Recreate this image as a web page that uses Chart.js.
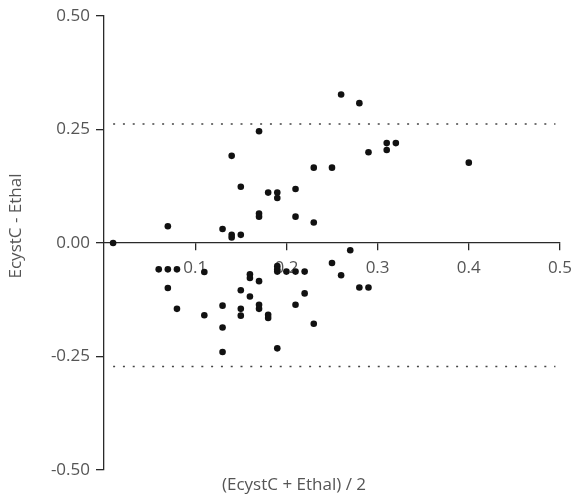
<!DOCTYPE html>
<html>
<head>
<meta charset="utf-8">
<script src="https://cdn.jsdelivr.net/npm/chart.js@4"></script>
<style>
  html, body { margin: 0; padding: 0; background: #fff; }
</style>
</head>
<body>
<canvas id="chart" width="572" height="500"></canvas>
<script>
// (mean, difference) pairs
const meanVals = [
    0.01, 0.07, 0.13, 0.14, 0.14, 0.14, 0.15, 0.15, 0.17, 0.17,
    0.17, 0.18, 0.19, 0.19, 0.21, 0.21, 0.23, 0.23, 0.25, 0.26,
    0.28, 0.29, 0.31, 0.31, 0.32, 0.40, 0.27, 0.25, 0.26, 0.28,
    0.29, 0.06, 0.07, 0.08, 0.11, 0.07, 0.08, 0.11, 0.13, 0.13,
    0.13, 0.15, 0.15, 0.15, 0.16, 0.16, 0.16, 0.17, 0.17, 0.17,
    0.18, 0.18, 0.19, 0.19, 0.19, 0.19, 0.20, 0.21, 0.22, 0.22,
    0.21, 0.23
];
const diffVals = [
    0.000, 0.037, 0.031, 0.192, 0.018, 0.012, 0.124, 0.018, 0.246, 0.065,
    0.058, 0.111, 0.111, 0.099, 0.119, 0.058, 0.166, 0.045, 0.166, 0.327,
    0.308, 0.200, 0.220, 0.205, 0.220, 0.177, -0.016, -0.044, -0.071, -0.098,
    -0.098, -0.058, -0.058, -0.058, -0.064, -0.099, -0.145, -0.159, -0.138, -0.186,
    -0.240, -0.104, -0.145, -0.160, -0.069, -0.077, -0.118, -0.084, -0.136, -0.145,
    -0.158, -0.165, -0.051, -0.058, -0.063, -0.232, -0.063, -0.063, -0.063, -0.111,
    -0.136, -0.178
];

// limits of agreement
const upperLimit = 0.262;
const lowerLimit = -0.272;
const limitSpan = [0.01, 0.495];

const xTicks = [0.1, 0.2, 0.3, 0.4, 0.5];
const yTicks = [-0.5, -0.25, 0, 0.25, 0.5];
const xTitle = '(EcystC + Ethal) / 2';
const yTitle = 'EcystC - Ethal';

const textColor = '#555';
const axisColor = '#2a2a2a';
const font = { family: "'Open Sans', 'DejaVu Sans', sans-serif", size: 17 };

const points = meanVals.map((m, i) => ({ x: m, y: diffVals[i] }));
const limitLine = (v) => limitSpan.map(x => ({ x: x, y: v }));

// axis titles sit off-centre in the original, so place them by hand
const axisTitles = {
    id: 'axisTitles',
    afterDraw(chart) {
        const { ctx, chartArea: a } = chart;
        ctx.save();
        ctx.fillStyle = textColor;
        ctx.font = `${font.size}px ${font.family}`;
        ctx.textAlign = 'center';
        ctx.textBaseline = 'middle';
        ctx.fillText(xTitle, a.left + 190, a.bottom + 15);
        ctx.translate(a.left - 88, a.top + 210);
        ctx.rotate(-Math.PI / 2);
        ctx.fillText(yTitle, 0, 0);
        ctx.restore();
    }
};

new Chart(document.getElementById('chart'), {
    type: 'scatter',
    data: {
        datasets: [
            {
                data: points,
                backgroundColor: '#111',
                borderWidth: 0,
                pointRadius: 3.3,
                pointHoverRadius: 3.3
            },
            {
                type: 'line',
                data: limitLine(upperLimit),
                borderColor: '#444',
                borderWidth: 1.5,
                borderDash: [2, 7.8],
                pointRadius: 0,
                fill: false
            },
            {
                type: 'line',
                data: limitLine(lowerLimit),
                borderColor: '#444',
                borderWidth: 1.5,
                borderDash: [2, 7.8],
                pointRadius: 0,
                fill: false
            }
        ]
    },
    options: {
        responsive: false,
        animation: false,
        layout: { padding: { top: 16, right: 12, bottom: 30, left: 0 } },
        plugins: { legend: { display: false }, tooltip: { enabled: false } },
        scales: {
            x: {
                type: 'linear',
                position: { y: 0 },
                min: 0,
                max: 0.5,
                afterBuildTicks: (s) => { s.ticks = xTicks.map(v => ({ value: v })); },
                afterFit: (s) => { s.paddingLeft = 0; s.paddingRight = 0; },
                grid: { drawOnChartArea: false, drawTicks: true, tickLength: 7, color: axisColor, lineWidth: 1.3 },
                border: { color: axisColor, width: 1.3 },
                ticks: { color: textColor, font: font, padding: 8, maxRotation: 0, callback: (v) => String(v) }
            },
            y: {
                type: 'linear',
                position: 'left',
                min: -0.5,
                max: 0.5,
                afterBuildTicks: (s) => { s.ticks = yTicks.map(v => ({ value: v })); },
                afterFit: (s) => { s.width = 104; s.paddingTop = 0; s.paddingBottom = 0; },
                grid: { drawOnChartArea: false, drawTicks: true, tickLength: 8, color: axisColor, lineWidth: 1.3 },
                border: { color: axisColor, width: 1.3 },
                ticks: { color: textColor, font: font, padding: 6, callback: (v) => v.toFixed(2) }
            }
        }
    },
    plugins: [axisTitles]
});
</script>
</body>
</html>
